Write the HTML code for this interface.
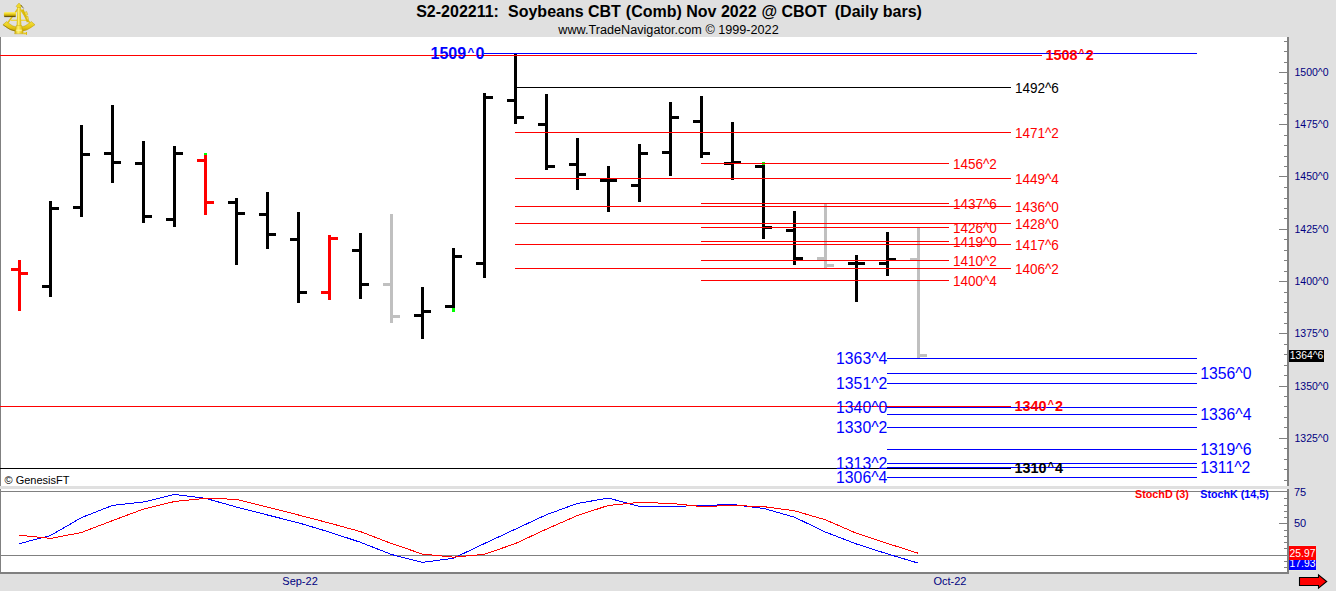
<!DOCTYPE html>
<html><head><meta charset="utf-8"><title>S2-202211 Soybeans CBT</title>
<style>
html,body{margin:0;padding:0;background:#e0e0e0;overflow:hidden}
svg{display:block;font-family:"Liberation Sans",Arial,sans-serif}
</style></head><body>
<svg width="1336" height="591" viewBox="0 0 1336 591">
<g shape-rendering="crispEdges">
<rect x="0" y="0" width="1336" height="591" fill="#e0e0e0"/>
<rect x="1" y="37" width="1286" height="449" fill="#ffffff"/>
<rect x="0" y="37" width="1" height="449" fill="#808080"/>
<rect x="1" y="489" width="1286" height="83" fill="#ffffff"/>
<rect x="0" y="489" width="1" height="85" fill="#808080"/>
<rect x="0" y="486" width="1289" height="3" fill="#e0e0e0"/>
<rect x="0" y="491" width="1287" height="1" fill="#808080"/>
<rect x="0" y="572" width="1289" height="2" fill="#808080"/>
<rect x="1287" y="37" width="2" height="449" fill="#808080"/>
<rect x="1287" y="489" width="2" height="85" fill="#808080"/>
<rect x="1" y="555" width="1286" height="1" fill="#808080"/>
<rect x="18" y="260" width="3" height="51" fill="#ff0000"/>
<rect x="11" y="268" width="7" height="3" fill="#ff0000"/>
<rect x="21" y="272" width="7" height="3" fill="#ff0000"/>
<rect x="49" y="201" width="3" height="96" fill="#000000"/>
<rect x="42" y="285" width="7" height="3" fill="#000000"/>
<rect x="52" y="207" width="7" height="3" fill="#000000"/>
<rect x="80" y="125" width="3" height="92" fill="#000000"/>
<rect x="73" y="206" width="7" height="3" fill="#000000"/>
<rect x="83" y="153" width="7" height="3" fill="#000000"/>
<rect x="111" y="105" width="3" height="78" fill="#000000"/>
<rect x="104" y="152" width="7" height="3" fill="#000000"/>
<rect x="114" y="161" width="7" height="3" fill="#000000"/>
<rect x="142" y="141" width="3" height="82" fill="#000000"/>
<rect x="135" y="162" width="7" height="3" fill="#000000"/>
<rect x="145" y="215" width="7" height="3" fill="#000000"/>
<rect x="173" y="146" width="3" height="81" fill="#000000"/>
<rect x="166" y="218" width="7" height="3" fill="#000000"/>
<rect x="176" y="152" width="7" height="3" fill="#000000"/>
<rect x="204" y="155" width="3" height="60" fill="#ff0000"/>
<rect x="197" y="159" width="7" height="3" fill="#ff0000"/>
<rect x="207" y="201" width="7" height="3" fill="#ff0000"/>
<rect x="235" y="198" width="3" height="67" fill="#000000"/>
<rect x="228" y="201" width="7" height="3" fill="#000000"/>
<rect x="238" y="212" width="7" height="3" fill="#000000"/>
<rect x="266" y="192" width="3" height="57" fill="#000000"/>
<rect x="259" y="213" width="7" height="3" fill="#000000"/>
<rect x="269" y="233" width="7" height="3" fill="#000000"/>
<rect x="297" y="212" width="3" height="91" fill="#000000"/>
<rect x="290" y="238" width="7" height="3" fill="#000000"/>
<rect x="300" y="291" width="7" height="3" fill="#000000"/>
<rect x="328" y="235" width="3" height="65" fill="#ff0000"/>
<rect x="321" y="291" width="7" height="3" fill="#ff0000"/>
<rect x="331" y="237" width="7" height="3" fill="#ff0000"/>
<rect x="359" y="233" width="3" height="66" fill="#000000"/>
<rect x="352" y="249" width="7" height="3" fill="#000000"/>
<rect x="362" y="283" width="7" height="3" fill="#000000"/>
<rect x="390" y="214" width="3" height="109" fill="#c0c0c0"/>
<rect x="383" y="283" width="7" height="3" fill="#c0c0c0"/>
<rect x="393" y="315" width="7" height="3" fill="#c0c0c0"/>
<rect x="421" y="287" width="3" height="52" fill="#000000"/>
<rect x="414" y="314" width="7" height="3" fill="#000000"/>
<rect x="424" y="310" width="7" height="3" fill="#000000"/>
<rect x="452" y="248" width="3" height="60" fill="#000000"/>
<rect x="445" y="305" width="7" height="3" fill="#000000"/>
<rect x="455" y="255" width="7" height="3" fill="#000000"/>
<rect x="483" y="93" width="3" height="185" fill="#000000"/>
<rect x="476" y="262" width="7" height="3" fill="#000000"/>
<rect x="486" y="96" width="7" height="3" fill="#000000"/>
<rect x="514" y="54" width="3" height="70" fill="#000000"/>
<rect x="507" y="99" width="7" height="3" fill="#000000"/>
<rect x="517" y="116" width="7" height="3" fill="#000000"/>
<rect x="545" y="94" width="3" height="76" fill="#000000"/>
<rect x="538" y="123" width="7" height="3" fill="#000000"/>
<rect x="548" y="165" width="7" height="3" fill="#000000"/>
<rect x="576" y="138" width="3" height="52" fill="#000000"/>
<rect x="569" y="163" width="7" height="3" fill="#000000"/>
<rect x="579" y="173" width="7" height="3" fill="#000000"/>
<rect x="607" y="166" width="3" height="46" fill="#000000"/>
<rect x="600" y="179" width="7" height="3" fill="#000000"/>
<rect x="610" y="179" width="7" height="3" fill="#000000"/>
<rect x="638" y="144" width="3" height="58" fill="#000000"/>
<rect x="631" y="184" width="7" height="3" fill="#000000"/>
<rect x="641" y="152" width="7" height="3" fill="#000000"/>
<rect x="669" y="102" width="3" height="74" fill="#000000"/>
<rect x="662" y="151" width="7" height="3" fill="#000000"/>
<rect x="672" y="116" width="7" height="3" fill="#000000"/>
<rect x="700" y="96" width="3" height="62" fill="#000000"/>
<rect x="693" y="120" width="7" height="3" fill="#000000"/>
<rect x="703" y="152" width="7" height="3" fill="#000000"/>
<rect x="731" y="122" width="3" height="58" fill="#000000"/>
<rect x="724" y="162" width="7" height="3" fill="#000000"/>
<rect x="734" y="161" width="7" height="3" fill="#000000"/>
<rect x="762" y="165" width="3" height="74" fill="#000000"/>
<rect x="755" y="165" width="7" height="3" fill="#000000"/>
<rect x="765" y="226" width="7" height="3" fill="#000000"/>
<rect x="793" y="211" width="3" height="54" fill="#000000"/>
<rect x="786" y="229" width="7" height="3" fill="#000000"/>
<rect x="796" y="257" width="7" height="3" fill="#000000"/>
<rect x="824" y="204" width="3" height="64" fill="#c0c0c0"/>
<rect x="817" y="257" width="7" height="3" fill="#c0c0c0"/>
<rect x="827" y="264" width="7" height="3" fill="#c0c0c0"/>
<rect x="855" y="255" width="3" height="47" fill="#000000"/>
<rect x="848" y="262" width="7" height="3" fill="#000000"/>
<rect x="858" y="262" width="7" height="3" fill="#000000"/>
<rect x="886" y="232" width="3" height="44" fill="#000000"/>
<rect x="879" y="262" width="7" height="3" fill="#000000"/>
<rect x="889" y="258" width="7" height="3" fill="#000000"/>
<rect x="917" y="228" width="3" height="130" fill="#c0c0c0"/>
<rect x="910" y="258" width="7" height="3" fill="#c0c0c0"/>
<rect x="920" y="354" width="7" height="3" fill="#c0c0c0"/>
<rect x="204" y="153" width="3" height="2" fill="#00ff00"/>
<rect x="452" y="308" width="3" height="4" fill="#00ff00"/>
<rect x="762" y="162" width="3" height="3" fill="#00ff00"/>
<rect x="515" y="132" width="496" height="1" fill="#ff0000"/>
<rect x="515" y="178" width="496" height="1" fill="#ff0000"/>
<rect x="515" y="206" width="496" height="1" fill="#ff0000"/>
<rect x="515" y="223" width="496" height="1" fill="#ff0000"/>
<rect x="515" y="244" width="496" height="1" fill="#ff0000"/>
<rect x="515" y="268" width="496" height="1" fill="#ff0000"/>
<rect x="701" y="163" width="248" height="1" fill="#ff0000"/>
<rect x="701" y="203" width="248" height="1" fill="#ff0000"/>
<rect x="701" y="227" width="248" height="1" fill="#ff0000"/>
<rect x="701" y="241" width="248" height="1" fill="#ff0000"/>
<rect x="701" y="260" width="248" height="1" fill="#ff0000"/>
<rect x="701" y="280" width="248" height="1" fill="#ff0000"/>
<rect x="517" y="87" width="494" height="1" fill="#000000"/>
<rect x="887" y="358" width="310" height="1" fill="#0000ff"/>
<rect x="887" y="373" width="310" height="1" fill="#0000ff"/>
<rect x="887" y="383" width="310" height="1" fill="#0000ff"/>
<rect x="887" y="407" width="310" height="1" fill="#0000ff"/>
<rect x="887" y="414" width="310" height="1" fill="#0000ff"/>
<rect x="887" y="427" width="310" height="1" fill="#0000ff"/>
<rect x="887" y="449" width="310" height="1" fill="#0000ff"/>
<rect x="887" y="463" width="310" height="1" fill="#0000ff"/>
<rect x="887" y="467" width="310" height="1" fill="#0000ff"/>
<rect x="887" y="477" width="310" height="1" fill="#0000ff"/>
<rect x="484" y="53" width="713" height="1" fill="#0000ff"/>
<rect x="0" y="55" width="1042" height="1" fill="#ff0000"/>
<rect x="0" y="406" width="1011" height="1" fill="#ff0000"/>
<rect x="0" y="468" width="1011" height="1" fill="#000000"/>
<rect x="1284" y="41" width="3" height="1" fill="#808080"/>
<rect x="1284" y="51" width="3" height="1" fill="#808080"/>
<rect x="1284" y="62" width="3" height="1" fill="#808080"/>
<rect x="1279" y="72" width="8" height="1" fill="#808080"/>
<rect x="1284" y="83" width="3" height="1" fill="#808080"/>
<rect x="1284" y="93" width="3" height="1" fill="#808080"/>
<rect x="1284" y="103" width="3" height="1" fill="#808080"/>
<rect x="1284" y="114" width="3" height="1" fill="#808080"/>
<rect x="1279" y="124" width="8" height="1" fill="#808080"/>
<rect x="1284" y="135" width="3" height="1" fill="#808080"/>
<rect x="1284" y="145" width="3" height="1" fill="#808080"/>
<rect x="1284" y="156" width="3" height="1" fill="#808080"/>
<rect x="1284" y="166" width="3" height="1" fill="#808080"/>
<rect x="1279" y="176" width="8" height="1" fill="#808080"/>
<rect x="1284" y="187" width="3" height="1" fill="#808080"/>
<rect x="1284" y="198" width="3" height="1" fill="#808080"/>
<rect x="1284" y="208" width="3" height="1" fill="#808080"/>
<rect x="1284" y="218" width="3" height="1" fill="#808080"/>
<rect x="1279" y="229" width="8" height="1" fill="#808080"/>
<rect x="1284" y="239" width="3" height="1" fill="#808080"/>
<rect x="1284" y="250" width="3" height="1" fill="#808080"/>
<rect x="1284" y="260" width="3" height="1" fill="#808080"/>
<rect x="1284" y="271" width="3" height="1" fill="#808080"/>
<rect x="1279" y="281" width="8" height="1" fill="#808080"/>
<rect x="1284" y="292" width="3" height="1" fill="#808080"/>
<rect x="1284" y="302" width="3" height="1" fill="#808080"/>
<rect x="1284" y="312" width="3" height="1" fill="#808080"/>
<rect x="1284" y="323" width="3" height="1" fill="#808080"/>
<rect x="1279" y="333" width="8" height="1" fill="#808080"/>
<rect x="1284" y="344" width="3" height="1" fill="#808080"/>
<rect x="1284" y="354" width="3" height="1" fill="#808080"/>
<rect x="1284" y="365" width="3" height="1" fill="#808080"/>
<rect x="1284" y="375" width="3" height="1" fill="#808080"/>
<rect x="1279" y="386" width="8" height="1" fill="#808080"/>
<rect x="1284" y="396" width="3" height="1" fill="#808080"/>
<rect x="1284" y="406" width="3" height="1" fill="#808080"/>
<rect x="1284" y="417" width="3" height="1" fill="#808080"/>
<rect x="1284" y="427" width="3" height="1" fill="#808080"/>
<rect x="1279" y="438" width="8" height="1" fill="#808080"/>
<rect x="1284" y="448" width="3" height="1" fill="#808080"/>
<rect x="1284" y="459" width="3" height="1" fill="#808080"/>
<rect x="1284" y="469" width="3" height="1" fill="#808080"/>
<rect x="1284" y="480" width="3" height="1" fill="#808080"/>
<rect x="1284" y="567" width="3" height="1" fill="#808080"/>
<rect x="1284" y="561" width="3" height="1" fill="#808080"/>
<rect x="1284" y="555" width="3" height="1" fill="#808080"/>
<rect x="1284" y="548" width="3" height="1" fill="#808080"/>
<rect x="1284" y="542" width="3" height="1" fill="#808080"/>
<rect x="1284" y="536" width="3" height="1" fill="#808080"/>
<rect x="1284" y="530" width="3" height="1" fill="#808080"/>
<rect x="1279" y="523" width="8" height="1" fill="#808080"/>
<rect x="1284" y="517" width="3" height="1" fill="#808080"/>
<rect x="1284" y="511" width="3" height="1" fill="#808080"/>
<rect x="1284" y="505" width="3" height="1" fill="#808080"/>
<rect x="1284" y="498" width="3" height="1" fill="#808080"/>
<rect x="1289" y="350" width="35" height="12" fill="#000000"/>
<rect x="1289" y="560" width="27" height="10" fill="#0000ff"/>
<rect x="1289" y="545" width="27" height="1" fill="#e1e7e7"/>
<rect x="1289" y="570" width="27" height="1" fill="#e8e8de"/>
<rect x="1289" y="546" width="27" height="14" fill="#ff0000"/>
</g>
<polyline points="19.5,543.6 50.5,535.5 81.5,517.6 112.5,505.4 143.5,502 174.5,494.5 205.5,498.3 236.5,507.1 267.5,515 298.5,522.8 329.5,532.1 360.5,542.3 391.5,554.5 422.5,562.4 453.5,558.2 484.5,543.5 515.5,529.1 546.5,514.7 577.5,503.4 608.5,498.1 639.5,506.5 670.5,506.5 701.5,505.5 732.5,504.5 763.5,508.4 794.5,517.2 825.5,532.1 856.5,544 887.5,553.9 918.5,563.2" fill="none" stroke="#0000ff" stroke-width="1" shape-rendering="crispEdges"/>
<polyline points="19.5,535.3 50.5,538.4 81.5,532.5 112.5,520.6 143.5,509.1 174.5,501.5 205.5,498.3 236.5,499.3 267.5,507.1 298.5,515 329.5,523.1 360.5,531.6 391.5,543.5 422.5,554.1 453.5,557.2 484.5,554.3 515.5,543.5 546.5,529.1 577.5,515.5 608.5,505.4 639.5,502.4 670.5,503.4 701.5,506.5 732.5,505.5 763.5,506.6 794.5,510.8 825.5,519.8 856.5,533.3 887.5,543.5 918.5,553.3" fill="none" stroke="#ff0000" stroke-width="1" shape-rendering="crispEdges"/>
<text transform="translate(1289.6,567) scale(0.94,1)" font-size="11" fill="#ffffff">17.93</text>
<g shape-rendering="crispEdges"><rect x="1289" y="546" width="27" height="14" fill="#ff0000"/></g>
<polygon points="1299.5,577.5 1318.5,577.5 1318.5,574.9 1326.7,581.5 1318.5,588.1 1318.5,585.5 1299.5,585.5" fill="#ff0000" stroke="#000000" stroke-width="1.1"/>
<defs>
<linearGradient id="gv" x1="0" y1="0" x2="0" y2="1"><stop offset="0" stop-color="#fff27a"/><stop offset="0.45" stop-color="#ecd019"/><stop offset="1" stop-color="#8a6d00"/></linearGradient>
<linearGradient id="gh" x1="0" y1="0" x2="1" y2="0"><stop offset="0" stop-color="#c9a800"/><stop offset="0.4" stop-color="#fff06a"/><stop offset="1" stop-color="#d4b000"/></linearGradient>
<linearGradient id="ga" x1="0" y1="0" x2="0" y2="1"><stop offset="0" stop-color="#f6e23c"/><stop offset="0.6" stop-color="#e3c412"/><stop offset="1" stop-color="#b89600"/></linearGradient>
</defs>
<g id="sextant">
<path d="M2.9,24.8 Q18.8,38.6 35,24.8 L31.4,21.6 Q18.8,33.2 6.5,21.6 Z" fill="url(#ga)" stroke="#b89a10" stroke-width="0.5"/>
<path d="M3.2,24.9 Q9.3,30.1 15.2,31.1" fill="none" stroke="#5a4500" stroke-width="0.7" opacity="0.6"/>
<path d="M18.8,7.5 L7.5,23.2 M19.2,7.5 L30,23.2" fill="none" stroke="#e2c317" stroke-width="1.5"/>
<path d="M11,20.3 L27.5,20.3" stroke="#ecd43a" stroke-width="1.3" fill="none"/>
<path d="M22.6,9.5 L27.8,22" stroke="#d9b90f" stroke-width="2" fill="none"/>
<path d="M24.4,12.6 l2.2,-1.2 l1.2,3 l-2,1.2 Z M26,17 l1.8,-1 l0.8,3.4 l-1.6,0.6 Z" fill="#f4df45" stroke="#c2a000" stroke-width="0.4"/>
<rect x="3.9" y="11.9" width="12" height="4.9" rx="1.2" fill="url(#gv)"/>
<rect x="4.2" y="16.2" width="11.5" height="0.9" fill="#3d2f00" opacity="0.75"/>
<path d="M17.5,6 L20.5,6 L21.4,27 L16.6,27 Z" fill="url(#gh)"/>
<path d="M16.1,6.2 L19,3 L21.9,6.2 L20.8,7.5 L17.2,7.5 Z" fill="#f1d92c" stroke="#b89a10" stroke-width="0.4"/>
<path d="M20.8,5 L23.6,8.4" stroke="#3d2f00" stroke-width="0.9" opacity="0.7"/>
<path d="M16.2,25.6 L21.8,25.6 L23.4,33.8 L14.6,33.8 Z" fill="url(#gh)" stroke="#c2a000" stroke-width="0.4"/>
<rect x="16.2" y="29.6" width="5.6" height="1.6" fill="#fff6a0" opacity="0.8"/>
<rect x="23.4" y="32.6" width="3.6" height="1.7" fill="#e8cb1c"/>
<rect x="26" y="32" width="1" height="2.8" fill="#d9b90f"/>
</g>

<g>
<text x="416.2" y="17" font-size="16" font-weight="bold" fill="#000000" xml:space="preserve">S2-202211:&#160; <tspan dx="0.2">Soybeans</tspan> <tspan dx="-0.1">CBT</tspan> <tspan dx="0.5">(Comb)</tspan> <tspan dx="-0.1">Nov</tspan> <tspan dx="0.1">2022</tspan> <tspan dx="0.4">@</tspan> CBOT&#160; <tspan dx="-0.9">(Daily</tspan> bars)</text>
<text x="668.5" y="33.5" font-size="12.65" fill="#000000" text-anchor="middle">www.TradeNavigator.com © 1999-2022</text>
<text x="430.5" y="59" font-size="16" fill="#0000ff" font-weight="bold" text-anchor="start">1509<tspan font-size="11.52" dx="1.31" dy="-3.2">^</tspan><tspan dx="1.31" dy="3.2">0</tspan></text>
<text transform="translate(1045.4,60) scale(0.96,1)" font-size="15" fill="#ff0000" font-weight="bold" text-anchor="start">1508<tspan font-size="10.8" dx="1.23" dy="-3.0">^</tspan><tspan dx="1.23" dy="3.0">2</tspan></text>
<text transform="translate(1014.9,92.6) scale(0.947,1)" font-size="14.3" fill="#000000" text-anchor="start">1492^6</text>
<text transform="translate(1014.9,137.6) scale(0.947,1)" font-size="14.3" fill="#ff0000" text-anchor="start">1471^2</text>
<text transform="translate(1014.9,183.6) scale(0.947,1)" font-size="14.3" fill="#ff0000" text-anchor="start">1449^4</text>
<text transform="translate(1014.9,211.6) scale(0.947,1)" font-size="14.3" fill="#ff0000" text-anchor="start">1436^0</text>
<text transform="translate(1014.9,228.6) scale(0.947,1)" font-size="14.3" fill="#ff0000" text-anchor="start">1428^0</text>
<text transform="translate(1014.9,249.6) scale(0.947,1)" font-size="14.3" fill="#ff0000" text-anchor="start">1417^6</text>
<text transform="translate(1014.9,273.6) scale(0.947,1)" font-size="14.3" fill="#ff0000" text-anchor="start">1406^2</text>
<text transform="translate(952.9,168.6) scale(0.947,1)" font-size="14.3" fill="#ff0000" text-anchor="start">1456^2</text>
<text transform="translate(952.9,208.6) scale(0.947,1)" font-size="14.3" fill="#ff0000" text-anchor="start">1437^6</text>
<text transform="translate(952.9,232.6) scale(0.947,1)" font-size="14.3" fill="#ff0000" text-anchor="start">1426^0</text>
<text transform="translate(952.9,246.6) scale(0.947,1)" font-size="14.3" fill="#ff0000" text-anchor="start">1419^0</text>
<text transform="translate(952.9,265.6) scale(0.947,1)" font-size="14.3" fill="#ff0000" text-anchor="start">1410^2</text>
<text transform="translate(952.9,285.6) scale(0.947,1)" font-size="14.3" fill="#ff0000" text-anchor="start">1400^4</text>
<text transform="translate(887.3,364) scale(0.985,1)" font-size="16" fill="#0000ff" text-anchor="end">1363^4</text>
<text transform="translate(887.3,389) scale(0.985,1)" font-size="16" fill="#0000ff" text-anchor="end">1351^2</text>
<text transform="translate(887.3,413) scale(0.985,1)" font-size="16" fill="#0000ff" text-anchor="end">1340^0</text>
<text transform="translate(887.3,433) scale(0.985,1)" font-size="16" fill="#0000ff" text-anchor="end">1330^2</text>
<text transform="translate(887.3,469) scale(0.985,1)" font-size="16" fill="#0000ff" text-anchor="end">1313^2</text>
<text transform="translate(887.3,483) scale(0.985,1)" font-size="16" fill="#0000ff" text-anchor="end">1306^4</text>
<text transform="translate(1200.3,379) scale(0.985,1)" font-size="16" fill="#0000ff" text-anchor="start">1356^0</text>
<text transform="translate(1200.3,420) scale(0.985,1)" font-size="16" fill="#0000ff" text-anchor="start">1336^4</text>
<text transform="translate(1200.3,455) scale(0.985,1)" font-size="16" fill="#0000ff" text-anchor="start">1319^6</text>
<text transform="translate(1200.3,473) scale(0.985,1)" font-size="16" fill="#0000ff" text-anchor="start">1311^2</text>
<text transform="translate(1014.6,411) scale(0.96,1)" font-size="15" fill="#ff0000" font-weight="bold" text-anchor="start">1340<tspan font-size="10.8" dx="1.23" dy="-3.0">^</tspan><tspan dx="1.23" dy="3.0">2</tspan></text>
<text transform="translate(1014.6,473) scale(0.96,1)" font-size="15" fill="#000000" font-weight="bold" text-anchor="start">1310<tspan font-size="10.8" dx="1.23" dy="-3.0">^</tspan><tspan dx="1.23" dy="3.0">4</tspan></text>
<text transform="translate(1294.5,76) scale(0.955,1)" font-size="11" fill="#000080" text-anchor="start">1500^0</text>
<text transform="translate(1294.5,128) scale(0.955,1)" font-size="11" fill="#000080" text-anchor="start">1475^0</text>
<text transform="translate(1294.5,180) scale(0.955,1)" font-size="11" fill="#000080" text-anchor="start">1450^0</text>
<text transform="translate(1294.5,233) scale(0.955,1)" font-size="11" fill="#000080" text-anchor="start">1425^0</text>
<text transform="translate(1294.5,285) scale(0.955,1)" font-size="11" fill="#000080" text-anchor="start">1400^0</text>
<text transform="translate(1294.5,337) scale(0.955,1)" font-size="11" fill="#000080" text-anchor="start">1375^0</text>
<text transform="translate(1294.5,390) scale(0.955,1)" font-size="11" fill="#000080" text-anchor="start">1350^0</text>
<text transform="translate(1294.5,442) scale(0.955,1)" font-size="11" fill="#000080" text-anchor="start">1325^0</text>
<text transform="translate(1289.8,359.3) scale(0.94,1)" font-size="11" fill="#ffffff" text-anchor="start">1364^6</text>
<text x="1294" y="496" font-size="11" fill="#000080" text-anchor="start">75</text>
<text x="1294" y="527" font-size="11" fill="#000080" text-anchor="start">50</text>
<text transform="translate(1289.6,557) scale(0.94,1)" font-size="11" fill="#ffffff" text-anchor="start">25.97</text>
<text x="4.5" y="484" font-size="11" fill="#000000" text-anchor="start">© GenesisFT</text>
<text transform="translate(1135,497.8) scale(0.98,1)" font-size="11" fill="#ff0000" font-weight="bold" text-anchor="start">StochD (3)</text>
<text transform="translate(1200.3,497.8) scale(0.975,1)" font-size="11" fill="#0000ff" font-weight="bold" text-anchor="start">StochK (14,5)</text>
<text x="282.3" y="585" font-size="11" fill="#000080" text-anchor="start">Sep-22</text>
<text x="933.4" y="585" font-size="11" fill="#000080" text-anchor="start">Oct-22</text>
</g>
</svg>
</body></html>
